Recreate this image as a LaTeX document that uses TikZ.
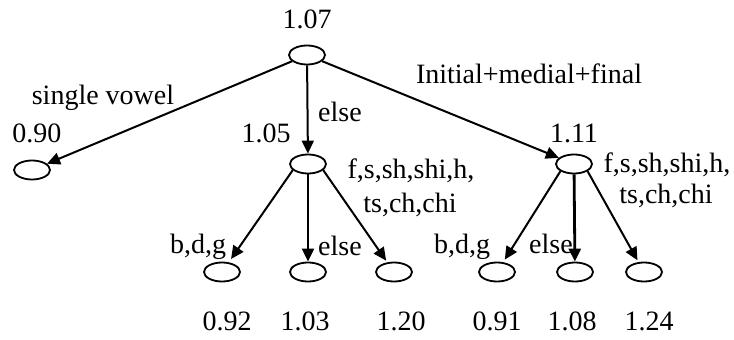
\documentclass[tikz,border=0pt]{standalone}
\usepackage{fontspec}
\setmainfont{Liberation Serif}
\usetikzlibrary{arrows.meta,shapes.geometric}
\begin{document}
\begin{tikzpicture}[x=1pt,y=-1pt,
  font=\fontsize{28}{32}\selectfont,
  leaf/.style={draw, ellipse, line width=1.8pt, minimum width=36pt, minimum height=19pt, inner sep=0pt},
  lbl/.style={anchor=base, inner sep=0pt},
  edge/.style={line width=2pt, -{Triangle[length=13pt,width=12pt]}}]
\useasboundingbox (0,0) rectangle (734,340);
% nodes
\node[leaf] (r) at (307,55) {};
\node[leaf] (a) at (32,170) {};
\node[leaf] (b) at (308,164) {};
\node[leaf] (c) at (574,164) {};
\node[leaf] (b1) at (222,272) {};
\node[leaf] (b2) at (308,272) {};
\node[leaf] (b3) at (394,272) {};
\node[leaf] (c1) at (497,272) {};
\node[leaf] (c2) at (575,272) {};
\node[leaf] (c3) at (644,272) {};
% edges
\draw[edge] (r) -- (a);
\draw[edge] (r) -- (b);
\draw[edge] (r) -- (c);
\draw[edge, shorten >=4pt] (b.202) -- (b1);
\draw[edge] (b) -- (b2);
\draw[edge, shorten >=2pt] (b.338) -- (b3);
\draw[edge, shorten >=3pt] (c.208) -- (c1);
\draw[edge, line width=2.8pt] (c) -- (c2);
\draw[edge, shorten >=2pt] (c.332) -- (c3);
% values
\node[lbl] (v0) at (307,28) {1.07};
\node[lbl] (va) at (37,142) {0.90};
\node[lbl] (vb) at (266,142) {1.05};
\node[lbl] (vc) at (574,142) {1.11};
\node[lbl] (vb1) at (227,330) {0.92};
\node[lbl] (vb2) at (305,330) {1.03};
\node[lbl] (vb3) at (401,330) {1.20};
\node[lbl] (vc1) at (497,330) {0.91};
\node[lbl] (vc2) at (572,330) {1.08};
\node[lbl] (vc3) at (649,330) {1.24};
% edge labels
\node[lbl] (e1) at (103,104) {single vowel};
\node[lbl] (e2) at (340,121) {else};
\node[lbl] (e3) at (529,83) {Initial+medial+final};
\node[lbl] (e4) at (411,178) {f,s,sh,shi,h,};
\node[lbl] (e5) at (410,212) {ts,ch,chi};
\node[lbl] (e6) at (667,172) {f,s,sh,shi,h,};
\node[lbl] (e7) at (666,203) {ts,ch,chi};
\node[lbl] (e8) at (198,253) {b,d,g};
\node[lbl] (e9) at (340,255) {else};
\node[lbl] (e10) at (462,253) {b,d,g};
\node[lbl] (e11) at (551,253) {else};
\end{tikzpicture}
\end{document}
